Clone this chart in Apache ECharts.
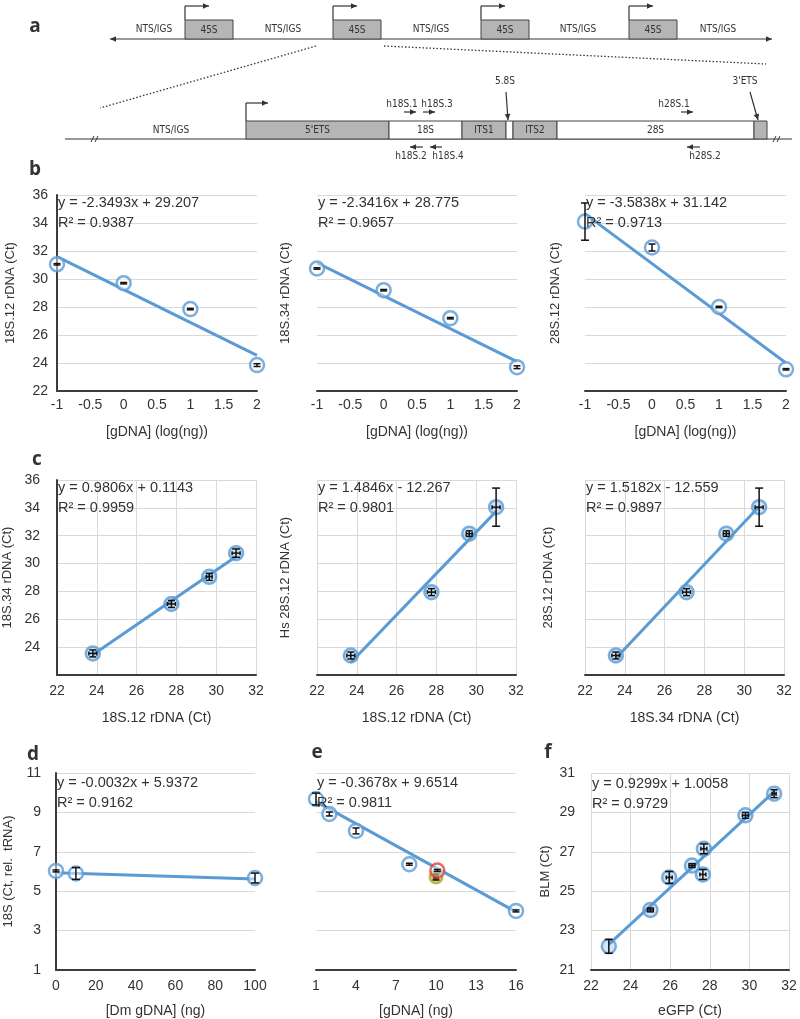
<!DOCTYPE html>
<html>
<head>
<meta charset="utf-8">
<script src="https://cdn.jsdelivr.net/npm/echarts@6/dist/echarts.min.js"></script>
<style>
  html, body { margin: 0; padding: 0; background: #fff; }
  #chart { width: 800px; height: 1019px; }
</style>
</head>
<body>
<div id="chart"></div>
<script>
// ---- values ----

// b: Ct against log(ng gDNA)
const bX = [-1, 0, 1, 2];
const b1Y = [31.05, 29.7, 27.85, 23.85];
const b1Yerr = [0.05, 0.05, 0.05, 0.1];
const b2Y = [30.75, 29.2, 27.2, 23.7];
const b2Yerr = [0.05, 0.05, 0.05, 0.1];
const b3Y = [34.1, 32.25, 28.0, 23.55];
const b3Yerr = [1.33, 0.25, 0.05, 0.05];
const bTrendX = [-1, 2];
const b1Trend = [31.6, 24.55];
const b2Trend = [31.15, 24.1];
const b3Trend = [34.65, 24.0];

// c: primer pairs against each other
const c1X = [23.8, 27.75, 29.65, 31.0];
const c1Y = [23.55, 27.1, 29.05, 30.75];
const c2X = [23.7, 27.75, 29.65, 31.0];
const c2Y = [23.4, 27.95, 32.15, 34.05];
const c3X = [23.55, 27.1, 29.1, 30.75];
const c3Y = [23.4, 27.95, 32.15, 34.05];
const cXerr = [0.2, 0.2, 0.15, 0.2];
const c1Yerr = [0.25, 0.25, 0.25, 0.3];
const c23Yerr = [0.25, 0.25, 0.2, 1.37];
const c1TrendX = [23.8, 31.0];
const c1Trend = [23.45, 30.5];
const c2TrendX = [23.7, 31.0];
const c2Trend = [22.9, 33.75];
const c3TrendX = [23.55, 30.75];
const c3Trend = [23.2, 34.1];

// d: Dm gDNA spike
const dX = [0, 10, 100];
const dY = [6.03, 5.9, 5.67];
const dXerr = [0, 0, 0];
const dYerr = [0.05, 0.3, 0.25];
const dTrendX = [0, 100];
const dTrend = [5.94, 5.62];

// e: gDNA dilution
const eX = [1, 2, 4, 8, 16];
const eY = [9.68, 8.92, 8.06, 6.37, 4.0];
const eYerr = [0.3, 0.1, 0.15, 0.05, 0.05];
const eRed = [[10.1, 6.05]];
const eYellow = [[10, 5.72]];
const eTrendX = [1, 16];
const eTrend = [9.55, 3.95];

// f: BLM against eGFP
const fX = [22.9, 25.0, 25.95, 27.1, 27.65, 27.7, 29.8, 31.25];
const fY = [22.2, 24.05, 25.7, 26.3, 25.85, 27.15, 28.85, 29.95];
const fXerr = [0, 0.15, 0.15, 0.15, 0.15, 0.15, 0.15, 0.1];
const fYerr = [0.35, 0.1, 0.3, 0.1, 0.25, 0.25, 0.15, 0.2];
const fTrendX = [22.9, 31.25];
const fTrend = [22.3, 30.05];

const equations = [
  ['y = -2.3493x + 29.207', 'R² = 0.9387'],
  ['y = -2.3416x + 28.775', 'R² = 0.9657'],
  ['y = -3.5838x + 31.142', 'R² = 0.9713'],
  ['y = 0.9806x + 0.1143', 'R² = 0.9959'],
  ['y = 1.4846x - 12.267', 'R² = 0.9801'],
  ['y = 1.5182x - 12.559', 'R² = 0.9897'],
  ['y = -0.0032x + 5.9372', 'R² = 0.9162'],
  ['y = -0.3678x + 9.6514', 'R² = 0.9811'],
  ['y = 0.9299x + 1.0058', 'R² = 0.9729']
];

const xNames = ['[gDNA] (log(ng))', '[gDNA] (log(ng))', '[gDNA] (log(ng))',
  '18S.12 rDNA (Ct)', '18S.12 rDNA (Ct)', '18S.34 rDNA (Ct)',
  '[Dm gDNA] (ng)', '[gDNA] (ng)', 'eGFP (Ct)'];
const yNames = ['18S.12 rDNA (Ct)', '18S.34 rDNA (Ct)', '28S.12 rDNA (Ct)',
  '18S.34 rDNA (Ct)', 'Hs 28S.12 rDNA (Ct)', '28S.12 rDNA (Ct)',
  '18S (Ct, rel.  tRNA)', '', 'BLM (Ct)'];

// ---- layout ----
const FONT = '"Liberation Sans", Arial, Helvetica, sans-serif';
const NARROW = '"Liberation Sans Narrow", "DejaVu Sans Condensed", sans-serif';
const BLUE = '#5B9BD5';
const INK = '#333';

const grids = [
  { left: 57, top: 195, width: 200, height: 196 },
  { left: 317, top: 195, width: 200, height: 196 },
  { left: 585, top: 195, width: 201, height: 196 },
  { left: 57, top: 480, width: 199, height: 195 },
  { left: 317, top: 480, width: 199, height: 195 },
  { left: 585, top: 480, width: 199, height: 195 },
  { left: 56, top: 773, width: 199, height: 197 },
  { left: 316, top: 773, width: 200, height: 197 },
  { left: 591, top: 773, width: 198, height: 197 }
];

// [min, max, interval, vertical grid lines]
const xRanges = [[-1, 2, 0.5, false], [-1, 2, 0.5, false], [-1, 2, 0.5, false],
  [22, 32, 2, true], [22, 32, 2, true], [22, 32, 2, true],
  [0, 100, 20, false], [1, 16, 3, false], [22, 32, 2, true]];
const yRanges = [[22, 36, 2], [22, 36, 2], [22, 36, 2],
  [22, 36, 2], [22, 36, 2], [22, 36, 2],
  [1, 11, 2], [1, 11, 2], [21, 31, 2]];
const yLabelShown = [true, false, false, true, false, false, true, false, true];
const yLineShown = [true, false, false, true, false, false, true, false, false];
const yNameGap = [40, 25, 23, 43, 25, 30, 41, 0, 39];
const yLabelMargin = [9, 9, 9, 17, 9, 9, 15, 9, 16];
const xNameGap = [34, 34, 34, 36, 36, 36, 34, 34, 34];
const xLabelMargin = [7, 7, 7, 9, 9, 9, 9, 9, 9];
// marker fill: white rings in b, d, e; light blue discs in c and f
const ringFill = ['rgba(255,255,255,0.6)', 'rgba(255,255,255,0.6)', 'rgba(255,255,255,0.6)',
  'rgba(91,155,213,0.35)', 'rgba(91,155,213,0.35)', 'rgba(91,155,213,0.35)',
  'rgba(255,255,255,0.6)', 'rgba(255,255,255,0.6)', 'rgba(91,155,213,0.3)'];

const xAxis = grids.map((g, i) => ({
  type: 'value', gridIndex: i,
  min: xRanges[i][0], max: xRanges[i][1], interval: xRanges[i][2],
  axisLine: { show: true, onZero: false, lineStyle: { color: '#3c3c3c', width: 2 } },
  axisTick: { show: false },
  axisLabel: { fontFamily: FONT, fontSize: 14, color: INK, margin: xLabelMargin[i] },
  splitLine: { show: xRanges[i][3], lineStyle: { color: '#d9d9d9', width: 1 } },
  name: xNames[i], nameLocation: 'middle', nameGap: xNameGap[i],
  nameTextStyle: { fontFamily: FONT, fontSize: 14, color: INK }
}));

const yAxis = grids.map((g, i) => ({
  type: 'value', gridIndex: i,
  min: yRanges[i][0], max: yRanges[i][1], interval: yRanges[i][2],
  axisLine: { show: yLineShown[i], onZero: false, lineStyle: { color: '#3c3c3c', width: 2 } },
  axisTick: { show: false },
  axisLabel: {
    show: yLabelShown[i], fontFamily: FONT, fontSize: 14, color: INK, margin: yLabelMargin[i],
    formatter: v => (i === 3 && v === 22) ? '' : String(v)
  },
  splitLine: { show: true, lineStyle: { color: '#d9d9d9', width: 1 } },
  name: yNames[i], nameLocation: 'middle', nameGap: yNameGap[i],
  nameTextStyle: { fontFamily: FONT, fontSize: 13, color: INK }
}));

function zip(xs, ys) { return xs.map((x, k) => [x, ys[k]]); }
function zip4(xs, ys, xe, ye) { return xs.map((x, k) => [x, ys[k], xe[k], ye[k]]); }
const zeros = n => new Array(n).fill(0);

const panelData = [
  { pts: zip4(bX, b1Y, zeros(4), b1Yerr), trend: zip(bTrendX, b1Trend) },
  { pts: zip4(bX, b2Y, zeros(4), b2Yerr), trend: zip(bTrendX, b2Trend) },
  { pts: zip4(bX, b3Y, zeros(4), b3Yerr), trend: zip(bTrendX, b3Trend) },
  { pts: zip4(c1X, c1Y, cXerr, c1Yerr), trend: zip(c1TrendX, c1Trend) },
  { pts: zip4(c2X, c2Y, cXerr, c23Yerr), trend: zip(c2TrendX, c2Trend) },
  { pts: zip4(c3X, c3Y, cXerr, c23Yerr), trend: zip(c3TrendX, c3Trend) },
  { pts: zip4(dX, dY, dXerr, dYerr), trend: zip(dTrendX, dTrend) },
  { pts: zip4(eX, eY, zeros(5), eYerr), trend: zip(eTrendX, eTrend) },
  { pts: zip4(fX, fY, fXerr, fYerr), trend: zip(fTrendX, fTrend) }
];

// Excel-style error bars: vertical (and horizontal when given) with short caps
function errorBar(params, api) {
  const x = api.value(0), y = api.value(1), xe = api.value(2), ye = api.value(3);
  const c = api.coord([x, y]);
  const st = { stroke: '#111', lineWidth: 1.5 };
  const kids = [];
  if (ye > 0) {
    const t = api.coord([x, y + ye])[1], b = api.coord([x, y - ye])[1];
    const cap = (b - t) > 8 ? 4 : 3.5;
    kids.push({ type: 'line', shape: { x1: c[0], y1: t, x2: c[0], y2: b }, style: st });
    kids.push({ type: 'line', shape: { x1: c[0] - cap, y1: t, x2: c[0] + cap, y2: t }, style: st });
    kids.push({ type: 'line', shape: { x1: c[0] - cap, y1: b, x2: c[0] + cap, y2: b }, style: st });
  }
  if (xe > 0) {
    const l = api.coord([x - xe, y])[0], r = api.coord([x + xe, y])[0];
    kids.push({ type: 'line', shape: { x1: l, y1: c[1], x2: r, y2: c[1] }, style: st });
    kids.push({ type: 'line', shape: { x1: l, y1: c[1] - 2, x2: l, y2: c[1] + 2 }, style: st });
    kids.push({ type: 'line', shape: { x1: r, y1: c[1] - 2, x2: r, y2: c[1] + 2 }, style: st });
  }
  return { type: 'group', children: kids };
}

const series = [];
panelData.forEach((p, i) => {
  series.push({
    type: 'line', xAxisIndex: i, yAxisIndex: i, data: p.trend,
    showSymbol: false, lineStyle: { color: BLUE, width: 3 }, z: 2, silent: true
  });
  series.push({
    type: 'scatter', xAxisIndex: i, yAxisIndex: i, data: p.pts.map(r => [r[0], r[1]]),
    symbol: 'circle', symbolSize: 14,
    itemStyle: { color: ringFill[i], borderColor: BLUE, borderWidth: 2.5 }, z: 3, silent: true
  });
  series.push({
    type: 'custom', xAxisIndex: i, yAxisIndex: i, data: p.pts,
    renderItem: errorBar, encode: { x: 0, y: 1 }, z: 4, silent: true
  });
});
// the two extra samples at 10 ng in panel e
series.push({
  type: 'scatter', xAxisIndex: 7, yAxisIndex: 7, data: eYellow, symbol: 'circle', symbolSize: 13,
  itemStyle: { color: '#cdb93b', borderColor: '#9fae45', borderWidth: 2 }, z: 3, silent: true
});
series.push({
  type: 'custom', xAxisIndex: 7, yAxisIndex: 7, data: eYellow.map(r => [r[0], r[1], 0.15, 0.15]),
  renderItem: errorBar, encode: { x: 0, y: 1 }, z: 4, silent: true
});
series.push({
  type: 'scatter', xAxisIndex: 7, yAxisIndex: 7, data: eRed, symbol: 'circle', symbolSize: 14,
  itemStyle: { color: 'rgba(255,255,255,0.55)', borderColor: '#e2453c', borderWidth: 2.5 }, z: 5, silent: true
});
series.push({
  type: 'custom', xAxisIndex: 7, yAxisIndex: 7, data: eRed.map(r => [r[0], r[1], 0, 0.05]),
  renderItem: errorBar, encode: { x: 0, y: 1 }, z: 6, silent: true
});

// ---- graphic: panel letters, equations, schematic ----
const gfx = [];
function txt(text, x, y, font, align) {
  gfx.push({ type: 'text', x, y, silent: true, z: 10,
    style: { text, font, fill: INK, align: align || 'center', verticalAlign: 'middle' } });
}
function seg(x1, y1, x2, y2, extra) {
  gfx.push({ type: 'line', silent: true, shape: { x1, y1, x2, y2 },
    style: Object.assign({ stroke: INK, lineWidth: 1.2 }, extra || {}) });
}
function head(x, y, ang) {
  const L = 6, W = 2.8, ca = Math.cos(ang), sa = Math.sin(ang);
  const bx = x - L * ca, by = y - L * sa;
  gfx.push({ type: 'polygon', silent: true,
    shape: { points: [[x, y], [bx - W * sa, by + W * ca], [bx + W * sa, by - W * ca]] },
    style: { fill: INK } });
}
function arrow(x1, y1, x2, y2) { seg(x1, y1, x2, y2); head(x2, y2, Math.atan2(y2 - y1, x2 - x1)); }
function box(x1, x2, y1, y2, gray) {
  gfx.push({ type: 'rect', silent: true, shape: { x: x1, y: y1, width: x2 - x1, height: y2 - y1 },
    style: { fill: gray ? '#b5b5b5' : '#fff', stroke: '#444', lineWidth: 1 } });
}

const LETTER = 'bold 19px "Open Sans", "Liberation Sans", sans-serif';
[['a', 35, 27], ['b', 35, 170], ['c', 37, 460], ['d', 33, 755], ['e', 317, 753], ['f', 548, 753]]
  .forEach(l => txt(l[0], l[1], l[2], LETTER));

const eqRowOffset = [8, 8, 8, 8, 8, 8, 10, 10, 11];
equations.forEach((e, i) => {
  const gx = grids[i].left + 1, gy = grids[i].top + eqRowOffset[i];
  txt(e[0], gx, gy, '14.5px ' + FONT, 'left');
  txt(e[1], gx, gy + 20, '14.5px ' + FONT, 'left');
});

// repeat array (top row)
const SMALL = '10px ' + NARROW;
const topY = 39;
arrow(440, topY, 110, topY);
arrow(440, topY, 772, topY);
const unitX = [185, 333, 481, 629];
unitX.forEach(x0 => {
  box(x0, x0 + 48, 20, topY, true);
  txt('45S', x0 + 24, 30, SMALL);
  seg(x0, 20, x0, 6);
  arrow(x0, 6, x0 + 24, 6);
});
[154, 283, 431, 578, 718].forEach(x => txt('NTS/IGS', x, 29, SMALL));
seg(316, 46, 100, 108, { lineDash: [1.5, 2], lineWidth: 1.3 });
seg(384, 46, 766, 64, { lineDash: [1.5, 2], lineWidth: 1.3 });

// one repeat unit (bottom row)
const rowY = 139, boxTop = 121;
seg(65, rowY, 792, rowY);
[95, 777].forEach(x => {
  seg(x - 4, rowY + 3, x - 1, rowY - 3, { lineWidth: 1 });
  seg(x, rowY + 3, x + 3, rowY - 3, { lineWidth: 1 });
});
const regions = [["5'ETS", 246, 389, true], ['18S', 389, 462, false], ['ITS1', 462, 506, true],
  ['', 506, 513, false], ['ITS2', 513, 557, true], ['28S', 557, 754, false], ['', 754, 767, true]];
regions.forEach(r => {
  box(r[1], r[2], boxTop, rowY, r[3]);
  if (r[0]) txt(r[0], (r[1] + r[2]) / 2, 130, SMALL);
});
txt('NTS/IGS', 171, 130, SMALL);
seg(246, boxTop, 246, 103);
arrow(246, 103, 268, 103);
txt('5.8S', 505, 81, SMALL);
arrow(506, 92, 508, 120);
txt("3'ETS", 745, 81, SMALL);
arrow(750, 92, 758, 120);
txt('h18S.1', 402, 104, SMALL);
arrow(404, 112, 416, 112);
txt('h18S.3', 437, 104, SMALL);
arrow(423, 112, 435, 112);
txt('h28S.1', 674, 104, SMALL);
arrow(681, 112, 693, 112);
arrow(423, 147, 410, 147);
txt('h18S.2', 411, 156, SMALL);
arrow(442, 147, 430, 147);
txt('h18S.4', 448, 156, SMALL);
arrow(700, 147, 687, 147);
txt('h28S.2', 705, 156, SMALL);

const chart = echarts.init(document.getElementById('chart'), null, { renderer: 'canvas' });
chart.setOption({
  animation: false,
  backgroundColor: '#fff',
  grid: grids,
  xAxis, yAxis, series,
  graphic: { elements: gfx }
});
</script>
</body>
</html>
